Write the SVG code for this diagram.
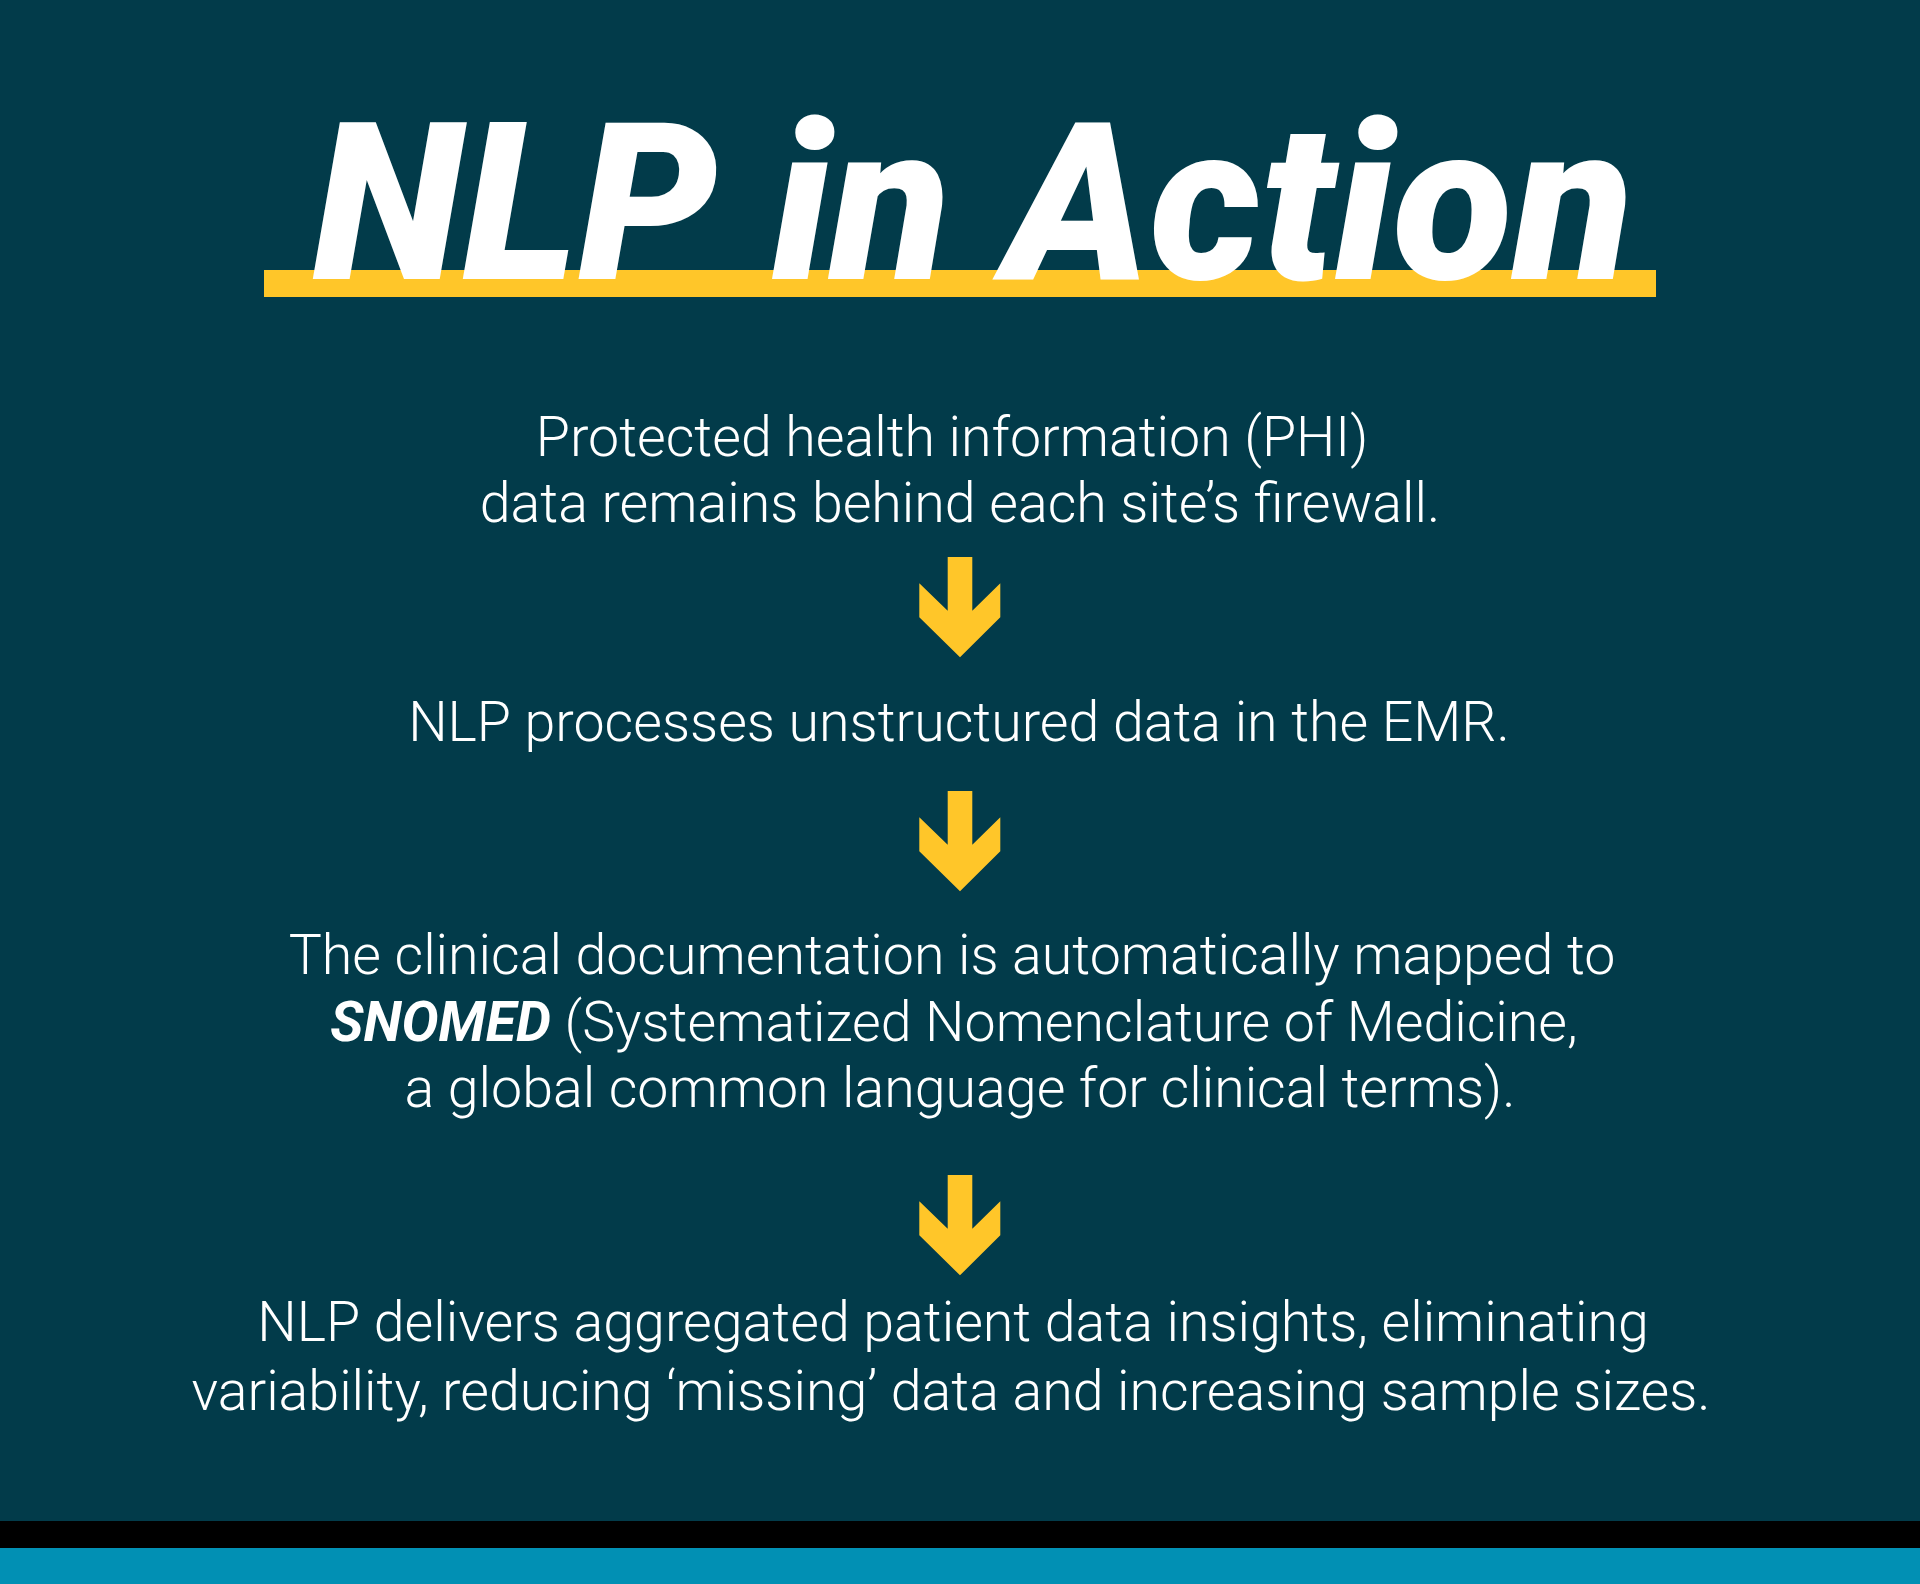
<svg xmlns="http://www.w3.org/2000/svg" width="1920" height="1584" viewBox="0 0 1920 1584">
<style>
.body{font-family:Roboto,"Liberation Sans",sans-serif;font-weight:300;font-size:55.5px;fill:#ffffff;text-anchor:middle}
.title{font-family:Roboto,"Liberation Sans",sans-serif;font-weight:900;font-style:italic;font-size:220px;fill:#ffffff;text-anchor:middle}
.arrow{fill:#FFC629}
.em{font-weight:700;font-style:italic}
</style>
<defs>
<path id="arr" d="M-12.3,0 H12.3 V53.7 L40.3,26.3 V60.3 L0,100.3 L-40.7,60.3 V26.3 L-12.3,53.7 Z"/>
</defs>
<rect x="0" y="0" width="1920" height="1584" fill="#023B4A"/>
<rect x="0" y="1521" width="1920" height="27" fill="#000000"/>
<rect x="0" y="1548" width="1920" height="36" fill="#0190B4"/>
<g id="title">
<rect x="264" y="270" width="1392" height="27" fill="#FFC629"/>
<text class="title" x="973" y="279">NLP in Action</text>
</g>
<g id="step1">
<text class="body" x="952" y="456">Protected health information (PHI)</text>
<text class="body" x="960" y="522">data remains behind each site’s firewall.</text>
</g>
<g id="step2">
<text class="body" x="959" y="741">NLP processes unstructured data in the EMR.</text>
</g>
<g id="step3">
<text class="body" x="952" y="974">The clinical documentation is automatically mapped to</text>
<text class="body" x="954" y="1041"><tspan class="em">SNOMED</tspan> (Systematized Nomenclature of Medicine,</text>
<text class="body" x="960" y="1107">a global common language for clinical terms).</text>
</g>
<g id="step4">
<text class="body" x="953" y="1341">NLP delivers aggregated patient data insights, eliminating</text>
<text class="body" x="951" y="1410">variability, reducing ‘missing’ data and increasing sample sizes.</text>
</g>
<g id="connectors">
<use href="#arr" class="arrow" x="960" y="557"/>
<use href="#arr" class="arrow" x="960" y="791"/>
<use href="#arr" class="arrow" x="960" y="1175"/>
</g>
</svg>
